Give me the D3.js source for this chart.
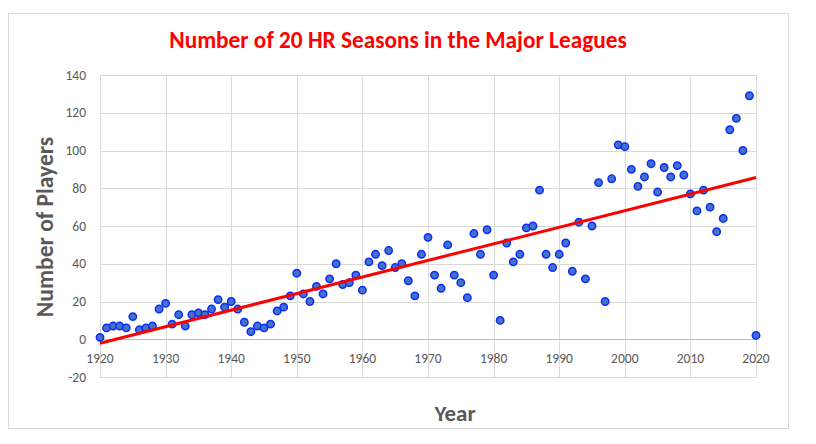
<!DOCTYPE html>
<html>
  <head>
    <script src="https://cdnjs.cloudflare.com/ajax/libs/d3/7.8.5/d3.min.js"></script>
    <style>
      body { margin: 0; background: #fff; }
      text { font-family: Calibri, Carlito, Lato, sans-serif; }
    </style>
  </head>
  <body>
  </body>
<script>
// seasons with 20+ home runs, one value per year 1920-2020
let years = d3.range(1920, 2021);
let players = [
   1,  6,  7,  7,  6, 12,  5,  6,  7, 16,   // 1920s
  19,  8, 13,  7, 13, 14, 13, 16, 21, 17,   // 1930s
  20, 16,  9,  4,  7,  6,  8, 15, 17, 23,   // 1940s
  35, 24, 20, 28, 24, 32, 40, 29, 30, 34,   // 1950s
  26, 41, 45, 39, 47, 38, 40, 31, 23, 45,   // 1960s
  54, 34, 27, 50, 34, 30, 22, 56, 45, 58,   // 1970s
  34, 10, 51, 41, 45, 59, 60, 79, 45, 38,   // 1980s
  45, 51, 36, 62, 32, 60, 83, 20, 85, 103,  // 1990s
 102, 90, 81, 86, 93, 78, 91, 86, 92, 87,   // 2000s
  77, 68, 79, 70, 57, 64, 111, 117, 100, 129, // 2010s
   2                                        // 2020
];
let yearTicks = d3.range(1920, 2021, 10);
let playerTicks = d3.range(-20, 141, 20);

let width = 816, height = 444;

let svg = d3.select("body").append("svg")
    .attr("width", width)
    .attr("height", height);

// chart area frame
svg.append("rect")
    .attr("x", 8.5).attr("y", 13.5)
    .attr("width", 780).attr("height", 415)
    .attr("fill", "#fff")
    .attr("stroke", "#d9d9d9");

let x = d3.scaleLinear().domain([1920, 2020]).range([100, 756]);
let y = d3.scaleLinear().domain([-20, 140]).range([377, 75]);

// gridlines
svg.append("g").selectAll("line")
    .data(playerTicks)
    .enter().append("line")
        .attr("x1", x(1920)).attr("x2", x(2020))
        .attr("y1", d => Math.round(y(d)) + 0.5)
        .attr("y2", d => Math.round(y(d)) + 0.5)
        .attr("stroke", d => d === 0 ? "#bfbfbf" : "#d9d9d9")
        .attr("stroke-width", 1);

svg.append("g").selectAll("line")
    .data(yearTicks)
    .enter().append("line")
        .attr("x1", d => Math.round(x(d)) + 0.5)
        .attr("x2", d => Math.round(x(d)) + 0.5)
        .attr("y1", y(140)).attr("y2", y(-20))
        .attr("stroke", "#d9d9d9")
        .attr("stroke-width", 1);

// tick labels
svg.append("g").selectAll("text")
    .data(playerTicks)
    .enter().append("text")
        .attr("x", 86)
        .attr("y", d => y(d))
        .attr("dy", "0.35em")
        .attr("text-anchor", "end")
        .attr("font-size", 13.5)
        .attr("fill", "#595959")
        .text(d => d);

svg.append("g").selectAll("text")
    .data(yearTicks)
    .enter().append("text")
        .attr("x", d => x(d))
        .attr("y", y(0) + 24)
        .attr("text-anchor", "middle")
        .attr("font-size", 13.5)
        .attr("fill", "#595959")
        .text(d => d);

// points
let data = years.map((yr, i) => ({ year: yr, value: players[i] }));

svg.append("g").selectAll("circle")
    .data(data)
    .enter().append("circle")
        .attr("cx", d => x(d.year))
        .attr("cy", d => y(d.value))
        .attr("r", 3.7)
        .attr("fill", "#4472c4")
        .attr("stroke", "#0a2cff")
        .attr("stroke-width", 1.5);

// linear trendline (least squares), like Excel's
let mx = d3.mean(data, d => d.year);
let my = d3.mean(data, d => d.value);
let slope = d3.sum(data, d => (d.year - mx) * (d.value - my)) /
            d3.sum(data, d => (d.year - mx) * (d.year - mx));
let icept = my - slope * mx;
let trend = [1920, 2020].map(yr => ({ year: yr, value: icept + slope * yr }));

let lineFunction = d3.line()
    .x(d => x(d.year))
    .y(d => y(d.value));

svg.append("path")
    .attr("d", lineFunction(trend))
    .attr("stroke", "#ff0000")
    .attr("stroke-width", 3)
    .attr("fill", "none");

// titles
svg.append("text")
    .attr("x", 398).attr("y", 48)
    .attr("text-anchor", "middle")
    .attr("font-size", 23.3)
    .attr("font-weight", "bold")
    .attr("fill", "#ff0000")
    .text("Number of 20 HR Seasons in the Major Leagues");

svg.append("text")
    .attr("transform", "translate(53,227) rotate(-90)")
    .attr("text-anchor", "middle")
    .attr("font-size", 23.5)
    .attr("font-weight", "bold")
    .attr("fill", "#595959")
    .text("Number of Players");

svg.append("text")
    .attr("x", 455).attr("y", 421)
    .attr("text-anchor", "middle")
    .attr("font-size", 23)
    .attr("font-weight", "bold")
    .attr("fill", "#595959")
    .text("Year");
</script>
</html>
